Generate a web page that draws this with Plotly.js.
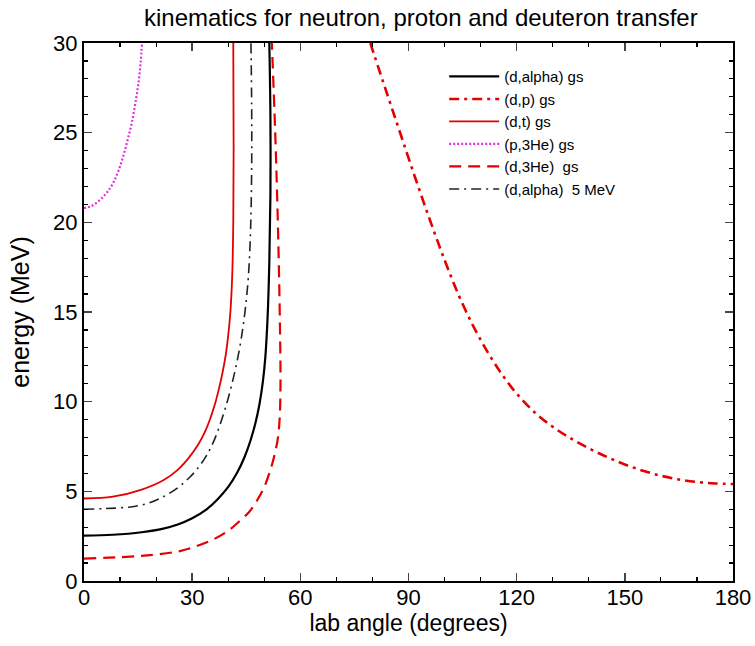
<!DOCTYPE html>
<html>
<head>
<meta charset="utf-8">
<script src="https://cdn.plot.ly/plotly-3.0.1.min.js"></script>
<style>html,body{margin:0;padding:0;background:#fff;}#chart{width:755px;height:646px;}</style>
</head>
<body>
<div id="chart"></div>
<script>
// (d,alpha) gs
var dalphaX = [0, 8, 16, 22, 26, 30, 34, 37, 40, 42.5, 44.5, 46.2, 47.6, 48.7, 49.6, 50.3, 50.9, 51.4, 51.7, 51.7, 51.4];
var dalphaE = [2.53, 2.58, 2.72, 2.92, 3.15, 3.5, 4.0, 4.55, 5.25, 6.05, 6.9, 7.85, 8.85, 9.9, 11.1, 12.5, 14.6, 17.8, 21.5, 26, 30];
// (d,p) gs
var dpX = [79.4, 84, 88, 92, 96, 100, 104, 108, 112, 116, 120, 125, 130, 135, 140, 145, 150, 155, 160, 165, 170, 175, 180];
var dpE = [30, 27.2, 24.8, 22.4, 20.1, 17.9, 15.9, 14.2, 12.75, 11.5, 10.45, 9.4, 8.6, 7.95, 7.4, 6.92, 6.5, 6.15, 5.87, 5.66, 5.52, 5.44, 5.41];
// (d,t) gs
var dtX = [0, 8, 16, 22, 26, 29, 31.5, 33.5, 35, 36.3, 37.4, 38.4, 39.3, 40.0, 40.6, 41.1, 41.4, 41.5, 41.4];
var dtE = [4.6, 4.7, 5.1, 5.62, 6.2, 6.85, 7.55, 8.3, 9.05, 9.85, 10.7, 11.6, 12.6, 13.7, 15.0, 17.0, 20, 24, 30];
// (p,3He) gs
var p3heX = [0, 2, 4.4, 6.3, 8.1, 9.6, 10.9, 12.1, 13.2, 14.2, 15.1, 15.7, 16.1];
var p3heE = [20.8, 20.9, 21.25, 21.65, 22.2, 22.9, 23.7, 24.6, 25.5, 26.6, 27.75, 28.9, 30];
// (d,3He) gs
var d3heX = [0, 12.8, 20, 26.6, 31, 35.9, 40, 43.2, 45.8, 47.9, 49.9, 51.6, 52.8, 53.8, 54.3, 54.5, 54.4, 54.1, 53.7, 53.0, 52.1];
var d3heE = [1.25, 1.36, 1.48, 1.67, 1.93, 2.32, 2.8, 3.35, 3.85, 4.46, 5.2, 6.13, 7.0, 8.0, 9.2, 11, 13.5, 17, 20.5, 25.2, 30];
// (d,alpha) 5 MeV
var dalpha5X = [0, 6, 12.8, 18, 22, 26, 29.4, 32, 34, 36, 37.7, 39.3, 40.8, 42.3, 43.6, 44.7, 45.6, 46.2, 46.5, 46.5, 46.3];
var dalpha5E = [4.0, 4.04, 4.13, 4.35, 4.7, 5.2, 5.8, 6.4, 7.0, 7.8, 8.7, 9.7, 10.8, 12.1, 13.5, 15.1, 17.0, 19.6, 23, 26.5, 30];

var names = ['(d,alpha) gs', '(d,p) gs', '(d,t) gs', '(p,3He) gs', '(d,3He)\u00A0 gs', '(d,alpha)\u00A0 5 MeV'];
var xTickVals = [0, 30, 60, 90, 120, 150, 180];
var yTickVals = [0, 5, 10, 15, 20, 25, 30];

var RED = 'rgb(228,0,0)';
var traces = [
  {x: dalphaX, y: dalphaE, name: names[0], line: {color: '#000', width: 2.2}},
  {x: dpX, y: dpE, name: names[1], line: {color: RED, width: 2.6, dash: '10px,5px,3px,5px'}},
  {x: dtX, y: dtE, name: names[2], line: {color: RED, width: 1.8}},
  {x: p3heX, y: p3heE, name: names[3], line: {color: 'rgb(224,48,224)', width: 2.2, dash: '2px,2px'}},
  {x: d3heX, y: d3heE, name: names[4], line: {color: RED, width: 2.2, dash: '12px,7px'}},
  {x: dalpha5X, y: dalpha5E, name: names[5], line: {color: '#222', width: 1.6, dash: '10px,5px,2px,5px'}}
];
traces.forEach(function(t){ t.type = 'scatter'; t.mode = 'lines'; t.line.shape = 'spline'; t.line.smoothing = 1; });

var FONT = 'Liberation Sans, Arial, sans-serif';
var layout = {
  width: 755, height: 646,
  margin: {l: 84, r: 22, t: 43, b: 65},
  paper_bgcolor: '#fff', plot_bgcolor: '#fff',
  font: {family: FONT, color: '#000', size: 22},
  title: {text: 'kinematics for neutron, proton and deuteron transfer', font: {family: FONT, size: 24, color: '#000'},
          x: 0.519, xref: 'paper', y: 0.973, yref: 'container', yanchor: 'middle'},
  showlegend: true,
  legend: {x: 0.555, y: 0.968, xanchor: 'left', yanchor: 'top', bgcolor: 'rgba(0,0,0,0)',
           font: {family: FONT, size: 15, color: '#000'}, itemwidth: 50, tracegroupgap: 0},
  xaxis: {range: [0, 180], tickvals: xTickVals, ticktext: xTickVals.map(String), ticks: 'inside', ticklen: 8, tickwidth: 1.5,
          minor: {dtick: 10, ticks: 'inside', ticklen: 4, tickwidth: 1.2, tickcolor: '#000'},
          showline: true, linecolor: '#000', linewidth: 2, mirror: 'allticks', zeroline: false, showgrid: false,
          ticklabelstandoff: -4,
          tickfont: {size: 22}, title: {text: 'lab angle (degrees)', font: {size: 23}, standoff: 0}},
  yaxis: {range: [0, 30], tickvals: yTickVals, ticktext: yTickVals.map(String), ticks: 'inside', ticklen: 8, tickwidth: 1.5,
          minor: {dtick: 1, ticks: 'inside', ticklen: 4, tickwidth: 1.2, tickcolor: '#000'},
          showline: true, linecolor: '#000', linewidth: 2, mirror: 'allticks', zeroline: false, showgrid: false,
          tickfont: {size: 22}, title: {text: 'energy (MeV)', font: {size: 25}, standoff: 16}}
};
Plotly.newPlot('chart', traces, layout, {displayModeBar: false, staticPlot: true});
</script>
</body>
</html>
